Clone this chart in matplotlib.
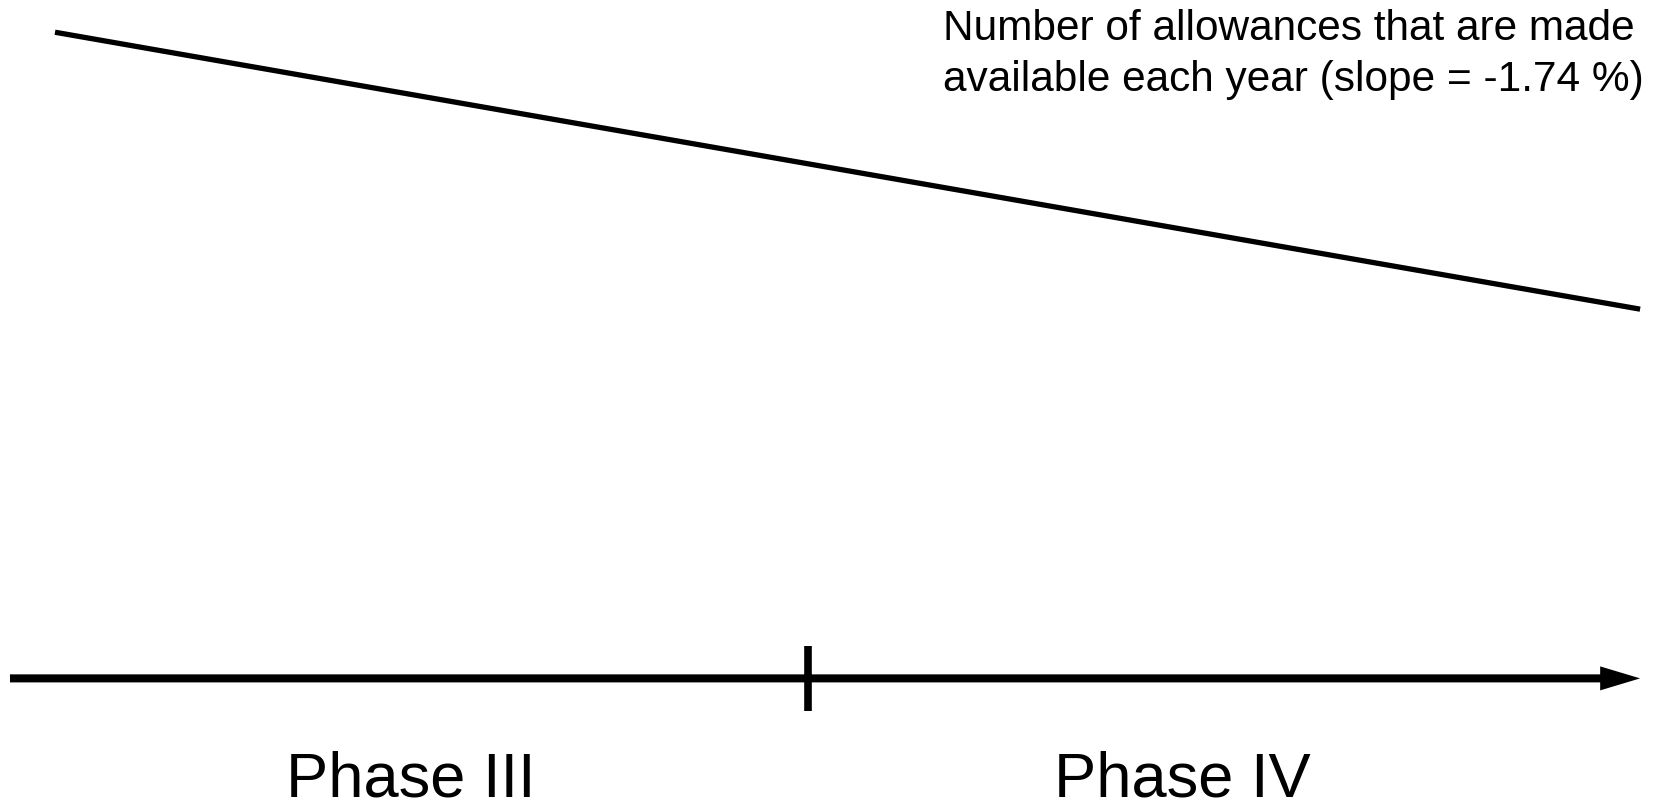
import matplotlib
matplotlib.use("Agg")
import matplotlib.pyplot as plt

plt.rcParams["font.family"] = ["Liberation Sans", "DejaVu Sans"]

# time runs 0 -> 1 across the two phases, allowances in arbitrary units
time_points = [0.0, 1.0]
allowances = [100.0, 70.0]
phase_boundary = 0.475
axis_level = 30.0
phase_labels = ["Phase III", "Phase IV"]
phase_label_x = [0.2245, 0.7115]
note = "Number of allowances that are made\navailable each year (slope = -1.74 %)"

fig = plt.figure(figsize=(16.65, 8.04), dpi=100)
ax = fig.add_axes([0, 0, 1, 1])
ax.set_xlim(-0.0347, 1.0157)
ax.set_ylim(16.5, 103.6)
ax.axis("off")

# allowance line
ax.plot(time_points, allowances, color="black", lw=3.8, solid_capstyle="butt")

# time axis with arrow
ax.arrow(-0.0284, axis_level, 1.0284, 0, width=0.87, head_width=2.6,
         head_length=0.0252, length_includes_head=True, color="black", lw=0)
ax.plot([phase_boundary, phase_boundary], [axis_level - 3.5, axis_level + 3.5],
        color="black", lw=5.5, solid_capstyle="butt")

for label, x in zip(phase_labels, phase_label_x):
    ax.text(x, 17.35, label, ha="center", va="baseline", fontsize=45.5)

ax.text(0.5605, 102.6, note, ha="left", va="top", fontsize=30.5, linespacing=1.35)

fig.savefig("out.png", dpi=100)
